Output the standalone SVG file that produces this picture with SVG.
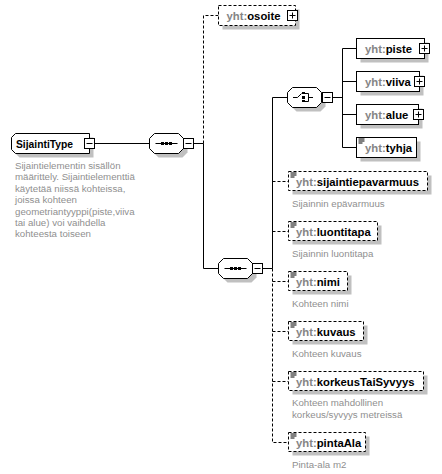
<svg xmlns="http://www.w3.org/2000/svg" width="442" height="474" viewBox="0 0 442 474">
<style>
.bg{fill:#ffffff}
.shadow{fill:#c0c0c0;stroke:none}
.box{fill:#ffffff;stroke:#000000;stroke-width:1}
.dbox{fill:#ffffff;stroke:#000000;stroke-width:1;stroke-dasharray:3,2}
.ln{fill:none;stroke:#000000;stroke-width:1}
.dln{fill:none;stroke:#000000;stroke-width:1;stroke-dasharray:3,2}
.pm{fill:#ffffff;stroke:#000000;stroke-width:1}
.lbl{font-family:"Liberation Sans",Arial,sans-serif;font-size:11.3px;font-weight:bold;fill:#000000}
.pre{fill:#858585}
.root{font-family:"Liberation Sans",Arial,sans-serif;font-size:10.3px;font-weight:bold;fill:#000000}
.desc{font-family:"Liberation Sans",Arial,sans-serif;font-size:9.7px;fill:#8f8f8f}
.ico{fill:#000000;stroke:none}
</style>
<defs>
<g id="minus"><rect class="pm" x="0.5" y="0.5" width="10" height="10"/><path class="ln" d="M2.5,5.5H8.5"/></g>
<g id="plus"><rect class="pm" x="0.5" y="0.5" width="10" height="10"/><path class="ln" d="M2.5,5.5H8.5M5.5,2.5V8.5"/></g>
<path id="oct" d="M5,0H29L34,5V15L29,20H5L0,15V5Z"/>
<g id="doc"><path class="ln" d="M2,1.5H8M2,3.5H8M2,5.5H6"/></g>
</defs>
<rect class="bg" x="0" y="0" width="442" height="474"/>

<g id="connectors">
<path class="ln" d="M94.5,143.5H149.5"/>
<path class="ln" d="M193.5,143.5H203.5"/>
<path class="dln" d="M203.5,143.5V15.5H218.5"/>
<path class="ln" d="M203.5,143.5V268.5H218.5"/>
<path class="ln" d="M262.5,268.5H272.5"/>
<path class="ln" d="M272.5,268.5V97.5H287.5"/>
<path class="dln" d="M272.5,268.5V442.5H288.5"/>
<path class="dln" d="M272.5,181.5H288.5"/>
<path class="dln" d="M272.5,231.5H288.5"/>
<path class="dln" d="M272.5,281.5H288.5"/>
<path class="dln" d="M272.5,331.5H288.5"/>
<path class="dln" d="M272.5,381.5H288.5"/>
<path class="ln" d="M332.5,97.5H342.5"/>
<path class="ln" d="M342.5,48.5V147.5"/>
<path class="ln" d="M342.5,48.5H356.5M342.5,81.5H356.5M342.5,114.5H356.5M342.5,147.5H356.5"/>
</g>

<g id="SijaintiType">
<path class="shadow" d="M19.5,137.5H93.5V157.5H19.5L15.5,153.5V141.5Z"/>
<path class="box" d="M15.5,133.5H89.5V153.5H15.5L11.5,149.5V137.5Z"/>
<text class="root" x="16" y="147.5">SijaintiType</text>
<use href="#minus" x="84" y="138"/>
<text class="desc" x="15" y="169">Sijaintielementin sisällön</text>
<text class="desc" x="15" y="180.4">määrittely. Sijaintielementtiä</text>
<text class="desc" x="15" y="191.8">käytetää niissä kohteissa,</text>
<text class="desc" x="15" y="203.2">joissa kohteen</text>
<text class="desc" x="15" y="214.6">geometriantyyppi(piste,viiva</text>
<text class="desc" x="15" y="226">tai alue) voi vaihdella</text>
<text class="desc" x="15" y="237.4">kohteesta toiseen</text>
</g>

<g id="sequence1">
<use href="#oct" class="shadow" x="153.5" y="137.5"/>
<use href="#oct" class="box" x="149.5" y="133.5"/>
<path class="ln" d="M155.5,143.5H177.5"/>
<rect class="ico" x="161" y="142" width="3" height="3"/>
<rect class="ico" x="165" y="142" width="3" height="3"/>
<rect class="ico" x="169" y="142" width="3" height="3"/>
<use href="#minus" x="183" y="138"/>
</g>

<g id="osoite">
<rect class="shadow" x="222.5" y="9.5" width="77" height="20"/>
<rect class="dbox" x="218.5" y="5.5" width="77" height="20"/>
<text class="lbl" x="226.5" y="19.5"><tspan class="pre">yht:</tspan>osoite</text>
<use href="#plus" x="287" y="10"/>
</g>

<g id="sequence2">
<use href="#oct" class="shadow" x="222.5" y="262.5"/>
<use href="#oct" class="box" x="218.5" y="258.5"/>
<path class="ln" d="M224.5,268.5H246.5"/>
<rect class="ico" x="230" y="267" width="3" height="3"/>
<rect class="ico" x="234" y="267" width="3" height="3"/>
<rect class="ico" x="238" y="267" width="3" height="3"/>
<use href="#minus" x="252" y="263"/>
</g>

<g id="choice">
<use href="#oct" class="shadow" x="291.5" y="91.5"/>
<use href="#oct" class="box" x="287.5" y="87.5"/>
<path class="ln" d="M293,97.5H297.5L301.5,93.5"/>
<rect class="ico" x="302" y="92" width="3" height="2"/>
<rect class="ico" x="302" y="96" width="3" height="3"/>
<rect class="ico" x="302" y="100" width="3" height="2"/>
<path class="ln" d="M305,93.5H308.5V101.5H305M308.5,97.5H313"/>
<use href="#minus" x="322" y="92"/>
</g>

<g id="piste">
<rect class="shadow" x="360.5" y="42.5" width="68" height="20"/>
<rect class="box" x="356.5" y="38.5" width="68" height="20"/>
<text class="lbl" x="365" y="52.5"><tspan class="pre">yht:</tspan>piste</text>
<use href="#plus" x="419" y="43"/>
</g>

<g id="viiva">
<rect class="shadow" x="360.5" y="75.5" width="63" height="20"/>
<rect class="box" x="356.5" y="71.5" width="63" height="20"/>
<text class="lbl" x="365" y="85.5"><tspan class="pre">yht:</tspan>viiva</text>
<use href="#plus" x="414" y="76"/>
</g>

<g id="alue">
<rect class="shadow" x="360.5" y="108.5" width="62" height="20"/>
<rect class="box" x="356.5" y="104.5" width="62" height="20"/>
<text class="lbl" x="365" y="118.5"><tspan class="pre">yht:</tspan>alue</text>
<use href="#plus" x="413" y="109"/>
</g>

<g id="tyhja">
<rect class="shadow" x="360.5" y="141.5" width="60" height="20"/>
<rect class="box" x="356.5" y="137.5" width="60" height="20"/>
<use href="#doc" x="356.5" y="137.5"/>
<text class="lbl" x="365" y="151.5"><tspan class="pre">yht:</tspan>tyhja</text>
</g>

<g id="sijaintiepavarmuus">
<rect class="shadow" x="292.5" y="175.5" width="139" height="19"/>
<rect class="dbox" x="288.5" y="171.5" width="139" height="19"/>
<use href="#doc" x="288.5" y="171.5"/>
<text class="lbl" x="296" y="185.5"><tspan class="pre">yht:</tspan>sijaintiepavarmuus</text>
<text class="desc" x="292" y="206.5">Sijainnin epävarmuus</text>
</g>

<g id="luontitapa">
<rect class="shadow" x="292.5" y="225.5" width="89" height="19"/>
<rect class="dbox" x="288.5" y="221.5" width="89" height="19"/>
<use href="#doc" x="288.5" y="221.5"/>
<text class="lbl" x="296" y="235.5"><tspan class="pre">yht:</tspan>luontitapa</text>
<text class="desc" x="292" y="256.5">Sijainnin luontitapa</text>
</g>

<g id="nimi">
<rect class="shadow" x="292.5" y="275.5" width="59" height="19"/>
<rect class="dbox" x="288.5" y="271.5" width="59" height="19"/>
<use href="#doc" x="288.5" y="271.5"/>
<text class="lbl" x="296" y="285.5"><tspan class="pre">yht:</tspan>nimi</text>
<text class="desc" x="292" y="306.5">Kohteen nimi</text>
</g>

<g id="kuvaus">
<rect class="shadow" x="292.5" y="325.5" width="75" height="19"/>
<rect class="dbox" x="288.5" y="321.5" width="75" height="19"/>
<use href="#doc" x="288.5" y="321.5"/>
<text class="lbl" x="296" y="335.5"><tspan class="pre">yht:</tspan>kuvaus</text>
<text class="desc" x="292" y="356.5">Kohteen kuvaus</text>
</g>

<g id="korkeusTaiSyvyys">
<rect class="shadow" x="292.5" y="375.5" width="135" height="19"/>
<rect class="dbox" x="288.5" y="371.5" width="135" height="19"/>
<use href="#doc" x="288.5" y="371.5"/>
<text class="lbl" x="296" y="385.5"><tspan class="pre">yht:</tspan>korkeusTaiSyvyys</text>
<text class="desc" x="292" y="405.5">Kohteen mahdollinen</text>
<text class="desc" x="292" y="417.5">korkeus/syvyys metreissä</text>
</g>

<g id="pintaAla">
<rect class="shadow" x="292.5" y="436.5" width="77" height="19"/>
<rect class="dbox" x="288.5" y="432.5" width="77" height="19"/>
<use href="#doc" x="288.5" y="432.5"/>
<text class="lbl" x="296" y="446.5"><tspan class="pre">yht:</tspan>pintaAla</text>
<text class="desc" x="292" y="467.5">Pinta-ala m2</text>
</g>
</svg>
